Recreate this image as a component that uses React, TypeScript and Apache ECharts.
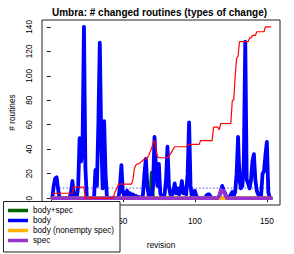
import React, { useEffect, useRef } from "react";
import * as echarts from "echarts";

const TITLE = "Umbra: # changed routines (types of change)";
const X_NAME = "revision";
const Y_NAME = "# routines";

const seriesNames = ["body+spec", "body", "body (nonempty spec)", "spec"];
const seriesColors = ["#006400", "#0000ff", "#ffaf00", "#9932cc"];
const totalColor = "#ff0000";
const meanColor = "#7070ff";

const xTicks = [0, 50, 100, 150];
// the "0" label sits under the legend in the reference, so only these show
const xTickLabels = [50, 100, 150];
const yTicks = [0, 20, 40, 60, 80, 100, 120, 140];

const firstRevision = 1;

// body+spec changes per revision (1..153)
const bodySpec = [
  0, 0, 0, 0, 0, 0, 0, 0, 0, 0,
  0, 0, 0, 0, 0, 0, 0, 0, 0, 0,
  0, 0, 0, 0, 0, 0, 0, 0, 0, 0,
  0, 0, 0, 0, 0, 0, 0, 0, 0, 0,
  0, 0, 0, 0, 0, 0, 0, 0, 0, 0,
  0, 0, 0, 0, 0, 0, 0, 0, 0, 0,
  0, 0, 0, 0, 0, 0, 0, 0, 0, 21,
  0, 0, 0, 0, 0, 0, 0, 0, 0, 0,
  0, 0, 0, 0, 0, 0, 0, 0, 0, 0,
  0, 0, 0, 0, 0, 0, 0, 0, 0, 0,
  0, 0, 0, 0, 0, 0, 0, 0, 0, 0,
  0, 0, 0, 0, 0, 0, 0, 0, 0, 0,
  0, 0, 0, 0, 0, 0, 0, 0, 0, 0,
  0, 0, 0, 0, 0, 0, 0, 0, 0, 0,
  0, 0, 0, 0, 0, 0, 0, 0, 0, 0,
  0, 0, 0,
];

// body changes per revision (1..153)
const body = [
  0, 10, 16, 17, 8, 0, 0, 0, 0, 0,
  0, 0, 0, 5, 14, 2, 0, 0, 10, 49,
  30, 40, 140, 25, 0, 0, 0, 0, 0, 0,
  23, 10, 60, 127, 50, 8, 63, 20, 0, 0,
  0, 0, 0, 0, 0, 0, 0, 10, 27, 5,
  2, 4, 6, 2, 4, 1, 3, 1, 2, 0,
  1, 0, 0, 3, 20, 32, 10, 2, 1, 1,
  10, 50, 25, 10, 28, 4, 1, 0, 3, 15,
  42, 10, 3, 2, 5, 12, 4, 8, 3, 6,
  14, 4, 8, 3, 20, 62, 10, 1, 4, 6,
  2, 0, 0, 0, 0, 0, 0, 2, 3, 3,
  1, 0, 0, 0, 0, 0, 2, 5, 10, 6,
  4, 0, 0, 1, 3, 5, 2, 5, 20, 50,
  15, 8, 10, 30, 128, 15, 12, 8, 15, 30,
  36, 15, 6, 3, 2, 2, 20, 22, 35, 46,
  5, 0, 0,
];

// body (nonempty spec) changes per revision (1..153)
const bodyNonemptySpec = [
  0, 0, 0, 0, 0, 0, 0, 0, 0, 0,
  0, 0, 0, 0, 0, 0, 0, 0, 0, 0,
  0, 0, 0, 0, 0, 0, 0, 0, 0, 0,
  0, 0, 0, 0, 0, 0, 0, 0, 0, 0,
  0, 0, 0, 0, 0, 0, 0, 0, 0, 0,
  0, 0, 0, 0, 0, 0, 0, 0, 0, 0,
  0, 0, 0, 0, 0, 0, 0, 0, 0, 0,
  0, 0, 0, 0, 0, 0, 0, 0, 0, 0,
  0, 0, 0, 0, 0, 0, 0, 0, 0, 0,
  0, 0, 0, 0, 0, 0, 0, 0, 0, 0,
  0, 0, 0, 0, 0, 0, 0, 0, 0, 0,
  0, 0, 0, 0, 0, 0, 0, 0, 0, 0,
  0, 0, 0, 0, 0, 0, 0, 0, 0, 0,
  0, 0, 0, 0, 0, 0, 0, 0, 0, 0,
  0, 0, 0, 0, 0, 0, 0, 0, 0, 0,
  0, 0, 0,
];

// spec changes per revision (1..153)
const spec = [
  0, 0, 0, 0, 0, 0, 0, 0, 0, 0,
  0, 0, 0, 0, 0, 0, 0, 0, 0, 0,
  0, 0, 0, 0, 0, 0, 0, 0, 0, 0,
  0, 0, 0, 0, 0, 0, 0, 0, 0, 0,
  0, 0, 0, 0, 0, 0, 0, 0, 0, 0,
  0, 0, 0, 0, 0, 0, 0, 0, 0, 0,
  0, 0, 0, 0, 0, 0, 0, 0, 0, 0,
  0, 0, 0, 0, 0, 0, 0, 0, 0, 0,
  0, 0, 0, 0, 0, 0, 0, 0, 0, 0,
  0, 0, 0, 0, 0, 0, 0, 0, 0, 0,
  0, 0, 0, 0, 0, 0, 0, 0, 0, 0,
  0, 0, 0, 0, 0, 0, 2, 7, 5, 6,
  3, 0, 0, 0, 0, 0, 0, 0, 0, 0,
  0, 0, 0, 0, 0, 0, 0, 0, 0, 0,
  0, 0, 0, 0, 0, 0, 0, 0, 0, 0,
  0, 0, 0,
];

// total (red line) per revision (1..153)
const totalRoutines = [
  4, 4, 4, 4, 4, 4, 4, 4, 4, 4,
  4, 4, 4, 4, 4, 9, 9, 9, 9, 9,
  9, 9, 9, 0, 0, 0, 0, 0, 0, 0,
  0, 0, 0, 0, 0, 0, 0, 0, 0, 0,
  0, 0, 0, 3, 6, 8.5, 11.5, 11.5, 11.5, 11.5,
  11.5, 11.5, 11.5, 11.5, 11.5, 11.5, 15, 24, 27, 28,
  28, 29, 30, 31, 32, 32, 33, 35, 38, 41,
  45, 47, 40, 34, 33, 33, 33, 33, 33, 33,
  33, 34, 36, 38, 40, 42, 42, 42, 42, 42,
  42, 42, 42, 42, 43, 44, 44, 44, 44, 44,
  44, 44, 44, 47, 47, 47, 47, 47, 47, 47,
  47, 47, 58, 58, 58, 58, 56, 61, 61, 61,
  61, 61, 61, 61, 61, 80, 80, 100, 114, 116,
  128, 128, 128, 128, 128, 128, 128, 131, 131, 133,
  133, 133, 136, 136, 136, 136, 136, 136, 140, 140,
  140, 140, 140,
];

const meanBody = 8.2;
const meanRange = [1, 153];

const FONT = "'Liberation Sans', Arial, Helvetica, sans-serif";

const pair = (arr: number[]) => arr.map((v, i) => [firstRevision + i, v]);

const lineSeries = (name: string, data: number[], color: string, width: number) => ({
  type: "line",
  name,
  data: pair(data),
  showSymbol: false,
  symbol: "none",
  silent: true,
  lineStyle: { color, width, cap: "round", join: "round" },
  itemStyle: { color },
});

export default function App() {
  const ref = useRef<HTMLDivElement>(null);
  useEffect(() => {
    if (!ref.current) return;
    const chart = echarts.init(ref.current, undefined, { renderer: "svg" });
    const option = {
      animation: false,
      backgroundColor: "#ffffff",
      textStyle: { fontFamily: FONT },
      grid: {
        left: 39,
        top: 20,
        width: 241,
        height: 193,
        show: true,
        borderColor: "#222",
        borderWidth: 1,
        backgroundColor: "transparent",
        containLabel: false,
      },
      graphic: [
        {
          type: "text",
          x: 159.5,
          y: 12,
          style: {
            text: TITLE,
            textAlign: "center",
            textVerticalAlign: "middle",
            font: `bold 10px ${FONT}`,
            fill: "#000",
          },
        },
        {
          type: "rect",
          z: 3,
          silent: true,
          shape: { x: 3.5, y: 201.5, width: 116.5, height: 50.5 },
          style: { fill: "#ffffff", stroke: "#222", lineWidth: 1 },
        },
      ],
      xAxis: {
        type: "value",
        min: -6.12,
        max: 159.12,
        name: X_NAME,
        nameLocation: "middle",
        nameGap: 36,
        nameMoveOverlap: false,
        nameTextStyle: { fontSize: 8.3, color: "#000", fontFamily: FONT },
        axisLine: { show: false },
        axisTick: { show: true, length: 4, customValues: xTicks, lineStyle: { color: "#222" } },
        axisLabel: { customValues: xTickLabels, fontSize: 8.3, color: "#000", margin: 12, fontFamily: FONT },
        splitLine: { show: false },
      },
      yAxis: {
        type: "value",
        min: -5.6,
        max: 145.6,
        name: Y_NAME,
        nameLocation: "middle",
        nameGap: 26,
        nameMoveOverlap: false,
        nameTextStyle: { fontSize: 8.3, color: "#000", fontFamily: FONT },
        axisLine: { show: false },
        axisTick: { show: true, length: 4, customValues: yTicks, lineStyle: { color: "#222" } },
        axisLabel: { customValues: yTicks, rotate: 90, fontSize: 8.3, color: "#000", margin: 9.5, fontFamily: FONT },
        splitLine: { show: false },
      },
      legend: {
        data: seriesNames,
        orient: "vertical",
        left: 3,
        top: 201,
        padding: [5, 4, 5, 5],
        itemGap: 1,
        itemWidth: 20,
        itemHeight: 3.5,
        icon: "rect",
        selectedMode: false,
        textStyle: { fontSize: 8.2, color: "#000", lineHeight: 9, fontFamily: FONT },
      },
      series: [
        {
          type: "line",
          name: "mean",
          data: meanRange.map((x) => [x, meanBody]),
          showSymbol: false,
          symbol: "none",
          silent: true,
          lineStyle: { color: meanColor, width: 1.2, type: [1.5, 2] },
        },
        lineSeries(seriesNames[0], bodySpec, seriesColors[0], 3.5),
        lineSeries(seriesNames[1], body, seriesColors[1], 3.8),
        lineSeries(seriesNames[2], bodyNonemptySpec, seriesColors[2], 3.5),
        lineSeries(seriesNames[3], spec, seriesColors[3], 3.5),
        {
          type: "line",
          name: "total",
          data: pair(totalRoutines),
          showSymbol: false,
          symbol: "none",
          silent: true,
          lineStyle: { color: totalColor, width: 1.2 },
        },
      ],
    };
    chart.setOption(option as any);
    return () => chart.dispose();
  }, []);
  return (
    <div
      ref={ref}
      style={{ position: "absolute", left: 0, top: 0, width: 294, height: 254, background: "#fff" }}
    />
  );
}
